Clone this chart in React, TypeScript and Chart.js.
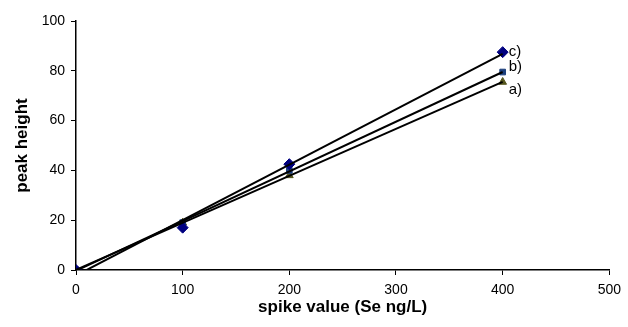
import React, { useEffect, useRef } from "react";
import { Chart, registerables } from "chart.js";

Chart.register(...registerables);

const spikeValues = [0, 100, 200, 400];
const seriesA = [0, 19, 38, 75.5];
const seriesB = [0, 19, 40, 79.5];
const seriesC = [0, 17, 42.5, 87.5];
const seriesLabels = ["a)", "b)", "c)"];
const xTicks = [0, 100, 200, 300, 400, 500];
const yTicks = [0, 20, 40, 60, 80, 100];

function fit(xs: number[], ys: number[]) {
  const n = xs.length;
  const mx = xs.reduce((a, b) => a + b, 0) / n;
  const my = ys.reduce((a, b) => a + b, 0) / n;
  let sxy = 0, sxx = 0;
  for (let i = 0; i < n; i++) {
    sxy += (xs[i] - mx) * (ys[i] - my);
    sxx += (xs[i] - mx) * (xs[i] - mx);
  }
  const m = sxy / sxx;
  const b = my - m * mx;
  const x0 = xs[0], x1 = xs[n - 1];
  return [{ x: x0, y: m * x0 + b }, { x: x1, y: m * x1 + b }];
}

const labelOffsets = [
  { dx: 6, dy: 8 },
  { dx: 6, dy: -5 },
  { dx: 6, dy: 0 },
];

const FONT = "'Liberation Sans', Arial, sans-serif";

const endLabelPlugin = {
  id: "endLabels",
  afterDatasetsDraw(chart: any) {
    const ctx = chart.ctx;
    const xs = chart.scales.x;
    const ys = chart.scales.y;
    const series = [seriesA, seriesB, seriesC];
    ctx.save();
    ctx.font = "15px " + FONT;
    ctx.fillStyle = "#000";
    ctx.textBaseline = "middle";
    ctx.textAlign = "left";
    series.forEach((s, i) => {
      const last = s.length - 1;
      const px = xs.getPixelForValue(spikeValues[last]);
      const py = ys.getPixelForValue(s[last]);
      ctx.fillText(seriesLabels[i], px + labelOffsets[i].dx, py + labelOffsets[i].dy);
    });
    ctx.restore();
  },
};

export default function App() {
  const ref = useRef<HTMLCanvasElement>(null);
  useEffect(() => {
    const pts = (ys: number[]) => spikeValues.map((x, i) => ({ x, y: ys[i] }));
    const lineDs = (ys: number[]) => ({
      type: "line" as const,
      data: fit(spikeValues, ys),
      borderColor: "#000",
      borderWidth: 2,
      pointRadius: 0,
      showLine: true,
      fill: false,
    });
    const chart = new Chart(ref.current!, {
      type: "scatter",
      data: {
        datasets: [
          lineDs(seriesC),
          lineDs(seriesB),
          lineDs(seriesA),
          {
            data: pts(seriesC),
            pointStyle: "rectRot",
            pointRadius: 5.5,
            backgroundColor: "#000080",
            borderColor: "#000080",
            borderWidth: 1,
          },
          {
            data: pts(seriesB),
            pointStyle: "rect",
            pointRadius: 4,
            backgroundColor: "#1c3f7c",
            borderColor: "#1c3f7c",
            borderWidth: 1,
          },
          {
            data: pts(seriesA),
            pointStyle: "triangle",
            pointRadius: 4.5,
            backgroundColor: "#55561e",
            borderColor: "#55561e",
            borderWidth: 1,
          },
        ] as any,
      },
      options: {
        animation: false,
        responsive: false,
        maintainAspectRatio: false,
        layout: { padding: { top: 21, right: 15, left: 0, bottom: 0 } },
        plugins: { legend: { display: false }, tooltip: { enabled: false } },
        scales: {
          x: {
            type: "linear",
            min: 0,
            max: 500,
            afterBuildTicks: (s: any) => {
              s.ticks = xTicks.map((v) => ({ value: v }));
            },
            afterFit: (s: any) => {
              s.height = 57;
            },
            grid: {
              drawOnChartArea: false,
              drawTicks: true,
              tickLength: 5,
              color: "#000",
              lineWidth: 1,
            },
            border: { color: "#000", width: 1.5 },
            ticks: {
              color: "#000",
              padding: 7,
              maxRotation: 0,
              font: { family: FONT, size: 14 },
            },
            title: {
              display: true,
              text: "spike value (Se ng/L)",
              color: "#000",
              padding: { top: 0, bottom: 9 },
              font: { family: FONT, size: 17, weight: "bold" },
            },
          },
          y: {
            type: "linear",
            min: 0,
            max: 100,
            afterBuildTicks: (s: any) => {
              s.ticks = yTicks.map((v) => ({ value: v }));
            },
            afterFit: (s: any) => {
              s.width = 76;
            },
            grid: {
              drawOnChartArea: false,
              drawTicks: true,
              tickLength: 5,
              color: "#000",
              lineWidth: 1,
            },
            border: { color: "#000", width: 1.5 },
            ticks: {
              color: "#000",
              padding: 6,
              font: { family: FONT, size: 14 },
            },
            title: {
              display: true,
              text: "peak height",
              color: "#000",
              padding: { top: 12, bottom: 0 },
              font: { family: FONT, size: 17, weight: "bold" },
            },
          },
        },
      },
      plugins: [endLabelPlugin],
    });
    return () => chart.destroy();
  }, []);
  return (
    <div style={{ position: "fixed", left: 0, top: 0, width: 628, height: 327, background: "#fff" }}>
      <canvas ref={ref} width={628} height={327} style={{ width: 628, height: 327 }} />
    </div>
  );
}
